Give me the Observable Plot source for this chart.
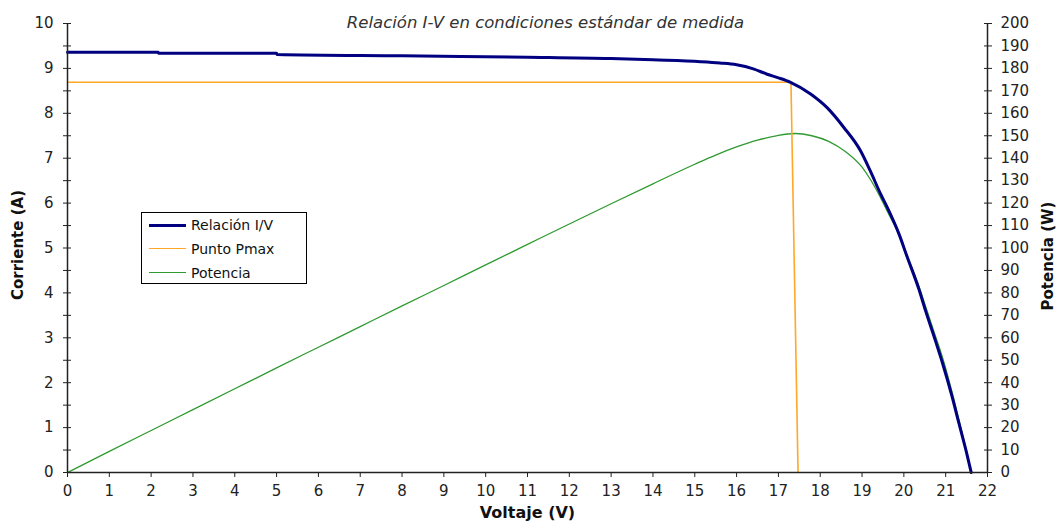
<!DOCTYPE html>
<html><head><meta charset="utf-8">
<script src="https://cdn.jsdelivr.net/npm/d3@7"></script>
<script src="https://cdn.jsdelivr.net/npm/@observablehq/plot@0.6"></script>
<style>
body{margin:0;background:#fff;}
#wrap{position:relative;width:1063px;height:529px;background:#fff;}
#legend{position:absolute;left:141px;top:212px;width:164px;height:70px;border:1px solid #000;background:#fff;font-family:"DejaVu Sans",sans-serif;font-size:14px;color:#111;}
#legend .row{position:absolute;left:0;height:20px;line-height:20px;}
#legend .sw{position:absolute;left:7px;width:37px;top:10px;}
#legend .lab{position:absolute;left:49px;white-space:nowrap;}
</style></head><body>
<div id="wrap"></div>
<script>
// Current–voltage curve (V, A)
const ivV = [0, 2.17, 2.18, 5.0, 5.01, 8, 11, 13, 14, 15.14, 15.6, 16.0, 16.4, 16.73, 17.0, 17.29, 17.77, 18.17, 18.56, 18.96, 19.2, 19.44, 19.60, 19.88, 20.08, 20.36, 20.52, 20.76, 20.92, 21.15, 21.31, 21.51, 21.61];
const ivI = [9.36, 9.36, 9.34, 9.34, 9.31, 9.28, 9.25, 9.22, 9.19, 9.15, 9.12, 9.08, 8.99, 8.87, 8.79, 8.69, 8.43, 8.12, 7.69, 7.17, 6.71, 6.21, 5.91, 5.32, 4.80, 4.08, 3.60, 2.92, 2.45, 1.70, 1.12, 0.40, 0];
// Pmax marker line (V, A)
const pmaxV = [0, 17.30, 17.47];
const pmaxI = [8.69, 8.69, 0];
// Power curve (V, W)
const powV = [0, 1, 2, 3, 4, 5, 6, 7, 8, 9, 10, 11, 12, 13, 14, 15, 15.5, 16, 16.5, 17, 17.4, 17.8, 18.2, 18.6, 19, 19.2, 19.44, 19.6, 19.88, 20.08, 20.36, 20.52, 20.76, 20.92, 21.15, 21.31, 21.51, 21.61];
const powW = [0, 9.4, 18.7, 28, 37.3, 46.6, 55.8, 65, 74.2, 83.3, 92.5, 101.6, 110.7, 119.7, 128.6, 137.3, 141.4, 145, 148, 150.2, 151, 150, 147.5, 143, 136, 130.5, 122.5, 116.5, 106, 96.5, 83, 74, 60.5, 51.5, 36, 24, 8.6, 0];

const xTicks = d3.range(0, 23, 1);
const leftTicks = d3.range(0, 11, 1);
const halfTicks = d3.range(0, 10.001, 0.5);
const rightTicks = d3.range(0, 201, 10);
const powerMax = 200, currentMax = 10;
const k = powerMax / currentMax;

const iv = ivV.map((v, i) => ({v, c: ivI[i]}));
const pm = pmaxV.map((v, i) => ({v, c: pmaxI[i]}));
const pw = powV.map((v, i) => ({v, p: powW[i]}));

const title = "Relación I-V en condiciones estándar de medida";

const chart = Plot.plot({
  width: 1063, height: 529,
  marginLeft: 67, marginRight: 76, marginTop: 23, marginBottom: 57,
  style: {fontFamily: "DejaVu Sans, sans-serif", fontSize: "15px", color: "#222", background: "#fff"},
  x: {domain: [0, 22]},
  y: {domain: [0, currentMax]},
  marks: [
    Plot.line(pw, {x: "v", y: d => d.p / k, stroke: "#2f9a2f", strokeWidth: 1.3, curve: "monotone-x"}),
    Plot.line(pm, {x: "v", y: "c", stroke: "#ffa726", strokeWidth: 1.6}),
    Plot.line(iv, {x: "v", y: "c", stroke: "#000080", strokeWidth: 3, curve: "monotone-x"}),
    Plot.ruleX([0, 22], {stroke: "#222", strokeWidth: 1.5}),
    Plot.ruleY([0], {stroke: "#222", strokeWidth: 1.5}),
    Plot.axisX(xTicks, {tickSize: 5, tickPadding: 8, label: null, tickFormat: d => String(d)}),
    Plot.axisY(halfTicks, {anchor: "left", tickSize: 8, dx: 4, tickFormat: () => "", label: null}),
    Plot.axisY(leftTicks, {anchor: "left", tickSize: 0, tickPadding: 14, label: null, tickFormat: d => String(d)}),
    Plot.axisY(halfTicks, {anchor: "right", tickSize: 8, dx: -4, tickFormat: () => "", label: null}),
    Plot.axisY(rightTicks.map(p => p / k), {anchor: "right", tickSize: 0, tickPadding: 13, label: null, tickFormat: d => String(Math.round(d * k))}),
    Plot.text([title], {frameAnchor: "top", dx: 18, dy: -7, fontStyle: "italic", fontSize: 16.5, fill: "#333"}),
    Plot.text(["Voltaje (V)"], {frameAnchor: "bottom", dy: 45, fontWeight: "bold", fontSize: 16, fill: "#111"}),
    Plot.text(["Corriente (A)"], {frameAnchor: "left", textAnchor: "middle", dx: -49, dy: -3, rotate: -90, fontWeight: "bold", fontSize: 15, fill: "#111"}),
    Plot.text(["Potencia (W)"], {frameAnchor: "right", textAnchor: "middle", dx: 61, dy: 8, rotate: -90, fontWeight: "bold", fontSize: 15, fill: "#111"})
  ]
});
const wrap = document.getElementById("wrap");
wrap.appendChild(chart);

const legendItems = [
  {label: "Relación I/V", color: "#000080", w: 3},
  {label: "Punto Pmax", color: "#ffa726", w: 1.6},
  {label: "Potencia", color: "#2f9a2f", w: 1.3}
];
const lg = document.createElement("div");
lg.id = "legend";
legendItems.forEach((it, i) => {
  const row = document.createElement("div");
  row.className = "row";
  row.style.top = (2 + i * 24) + "px";
  row.style.width = "100%";
  const sw = document.createElement("div");
  sw.className = "sw";
  sw.style.borderTop = it.w + "px solid " + it.color;
  sw.style.marginTop = (-it.w / 2) + "px";
  const lab = document.createElement("span");
  lab.className = "lab";
  lab.textContent = it.label;
  row.appendChild(sw); row.appendChild(lab);
  lg.appendChild(row);
});
wrap.appendChild(lg);
</script>
</body></html>
